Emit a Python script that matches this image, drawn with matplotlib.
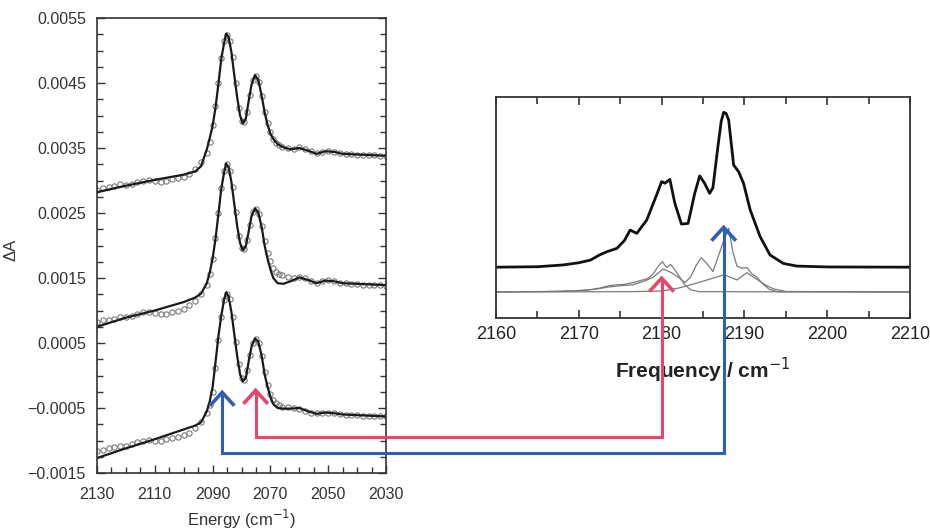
import numpy as np
import matplotlib
matplotlib.use('Agg')
import matplotlib.pyplot as plt
from matplotlib.lines import Line2D
from matplotlib.ticker import MultipleLocator

plt.rcParams['font.family'] = ['Liberation Sans', 'DejaVu Sans']

# ---- left panel: measured spectra (circles) and fits (lines) ----
e_fit = [2130, 2120, 2110, 2100, 2096, 2094, 2092, 2091, 2090, 2089, 2088, 2087, 2086,
         2085.3, 2084.5, 2083.5, 2082.5, 2081.5, 2080.5, 2079.6, 2078.5, 2077.5, 2076.5,
         2075.3, 2074.2, 2073, 2072, 2071, 2070, 2069, 2067.5, 2065.5, 2063, 2060, 2057,
         2054, 2051, 2048, 2045, 2040, 2035, 2030]
fit_top = [0.00282, 0.00292, 0.00301, 0.00309, 0.00314, 0.00322, 0.00348, 0.00365, 0.00384,
           0.00412, 0.00448, 0.00487, 0.00512, 0.00526, 0.00521, 0.00498, 0.00462, 0.00428,
           0.00400, 0.00388, 0.00395, 0.00423, 0.00448, 0.00462, 0.00455, 0.00430, 0.00405,
           0.00386, 0.00372, 0.00364, 0.00356, 0.00351, 0.00348, 0.00350, 0.00346, 0.00341,
           0.00345, 0.00344, 0.00341, 0.00340, 0.00339, 0.00338]
fit_mid = [0.00075, 0.00089, 0.00100, 0.00113, 0.00120, 0.00126, 0.00142, 0.00158, 0.00180,
           0.00210, 0.00248, 0.00287, 0.00313, 0.00326, 0.00321, 0.00298, 0.00264, 0.00230,
           0.00204, 0.00193, 0.00199, 0.00222, 0.00246, 0.00257, 0.00251, 0.00228, 0.00200,
           0.00180, 0.00163, 0.00150, 0.00142, 0.00141, 0.00145, 0.00151, 0.00147, 0.00142,
           0.00146, 0.00145, 0.00142, 0.00141, 0.00140, 0.00139]
fit_bot = [-0.00127, -0.00112, -0.00098, -0.00083, -0.00077, -0.00072, -0.00055, -0.00040,
           -0.00018, 0.00020, 0.00060, 0.00092, 0.00117, 0.00128, 0.00122, 0.00098, 0.00064,
           0.00030, 0.00002, -0.00009, -0.00004, 0.00022, 0.00045, 0.00057, 0.00052, 0.00030,
           0.00002, -0.00017, -0.00033, -0.00044, -0.00050, -0.00051, -0.00051, -0.00050,
           -0.00055, -0.00059, -0.00057, -0.00058, -0.00060, -0.00061, -0.00062, -0.00063]

e_pts = np.concatenate([np.arange(2130, 2092, -2), np.arange(2092, 2066, -1),
                        np.arange(2066, 2029, -2)])
pts_top = [0.00286, 0.00288, 0.00290, 0.00292, 0.00294, 0.00293, 0.00295, 0.00297, 0.00300,
           0.00301, 0.00300, 0.00298, 0.00300, 0.00302, 0.00304, 0.00306, 0.00310, 0.00318,
           0.00328,
           0.00342, 0.00360, 0.00385, 0.00414, 0.00450, 0.00488, 0.00514, 0.00524, 0.00514,
           0.00490, 0.00450, 0.00412, 0.00391, 0.00390, 0.00405, 0.00432, 0.00455, 0.00461,
           0.00451, 0.00430, 0.00406, 0.00388, 0.00374, 0.00364, 0.00358, 0.00354,
           0.00352, 0.00350, 0.00349, 0.00351, 0.00349, 0.00345, 0.00342, 0.00344, 0.00346,
           0.00344, 0.00342, 0.00341, 0.00341, 0.00340, 0.00340, 0.00339, 0.00339, 0.00338,
           0.00338]
pts_mid = [0.00082, 0.00085, 0.00086, 0.00087, 0.00090, 0.00090, 0.00092, 0.00095, 0.00097,
           0.00098, 0.00096, 0.00094, 0.00095, 0.00097, 0.00099, 0.00102, 0.00108, 0.00115,
           0.00126,
           0.00140, 0.00156, 0.00180, 0.00212, 0.00250, 0.00288, 0.00314, 0.00325, 0.00314,
           0.00290, 0.00251, 0.00214, 0.00196, 0.00195, 0.00208, 0.00232, 0.00252, 0.00256,
           0.00248, 0.00230, 0.00207, 0.00189, 0.00176, 0.00166, 0.00160, 0.00156,
           0.00154, 0.00151, 0.00150, 0.00151, 0.00150, 0.00146, 0.00143, 0.00145, 0.00147,
           0.00145, 0.00143, 0.00142, 0.00141, 0.00141, 0.00140, 0.00140, 0.00139, 0.00139,
           0.00138]
pts_bot = [-0.00116, -0.00114, -0.00112, -0.00110, -0.00109, -0.00108, -0.00106, -0.00103,
           -0.00100, -0.00099, -0.00100, -0.00100, -0.00098, -0.00096, -0.00094, -0.00092,
           -0.00088, -0.00080, -0.00072,
           -0.00058, -0.00046, -0.00025, 0.00012, 0.00054, 0.00090, 0.00116, 0.00126, 0.00118,
           0.00090, 0.00052, 0.00018, -0.00004, -0.00007, 0.00008, 0.00032, 0.00050, 0.00056,
           0.00050, 0.00030, 0.00005, -0.00014, -0.00028, -0.00038, -0.00043, -0.00046,
           -0.00048, -0.00049, -0.00050, -0.00051, -0.00054, -0.00057, -0.00058, -0.00057,
           -0.00057, -0.00058, -0.00059, -0.00060, -0.00061, -0.00061, -0.00062, -0.00062,
           -0.00063, -0.00063, -0.00063]

energy_ticks = [2130, 2110, 2090, 2070, 2050, 2030]
da_ticks = [-0.0015, -0.0005, 0.0005, 0.0015, 0.0025, 0.0035, 0.0045, 0.0055]
da_labels = ['\u22120.0015', '\u22120.0005', '0.0005', '0.0015', '0.0025',
             '0.0035', '0.0045', '0.0055']

# ---- right panel: simulated spectrum and components ----
f_sum = [2160, 2165, 2168.1, 2170, 2171.4, 2172.5, 2173.4, 2174.6, 2175.5, 2176.2, 2177.0,
         2178.2, 2179.4, 2180.0, 2180.4, 2181.0, 2181.6, 2182.4, 2183.2, 2184.0, 2184.6,
         2185.2, 2185.8, 2186.2, 2186.8, 2187.2, 2187.5, 2187.8, 2188.1, 2188.7, 2189.3,
         2189.9, 2190.7, 2191.9, 2193.1, 2194.7, 2196.3, 2200, 2210]
v_sum = [0.23, 0.232, 0.24, 0.25, 0.262, 0.285, 0.30, 0.315, 0.35, 0.398, 0.383, 0.443,
         0.557, 0.617, 0.61, 0.627, 0.519, 0.425, 0.428, 0.564, 0.643, 0.609, 0.564, 0.59,
         0.775, 0.89, 0.931, 0.925, 0.896, 0.692, 0.662, 0.609, 0.489, 0.368, 0.285, 0.247,
         0.235, 0.231, 0.23]

f_c1 = [2160, 2168, 2171, 2172.5, 2173.5, 2174.5, 2175.5, 2176.5, 2177.5, 2178.3, 2179.0,
        2179.6, 2180.1, 2180.6, 2181.1, 2181.6, 2182.2, 2182.8, 2183.5, 2184.5, 2210]
v_c1 = [0.118, 0.120, 0.126, 0.135, 0.145, 0.150, 0.152, 0.160, 0.170, 0.178, 0.200, 0.235,
        0.255, 0.228, 0.242, 0.218, 0.185, 0.150, 0.128, 0.119, 0.118]
f_c2 = [2160, 2166, 2170, 2172, 2173.5, 2175, 2176.5, 2178, 2179, 2180.2, 2181.2, 2182.0,
        2182.8, 2183.5, 2184.2, 2184.8, 2185.5, 2186.2, 2186.9, 2187.5, 2188.1, 2188.6,
        2189.1, 2189.7, 2190.3, 2190.9, 2191.5, 2192.2, 2193.0, 2194, 2210]
v_c2 = [0.118, 0.120, 0.124, 0.130, 0.140, 0.146, 0.150, 0.168, 0.185, 0.222, 0.205, 0.185,
        0.160, 0.185, 0.240, 0.273, 0.245, 0.210, 0.285, 0.350, 0.406, 0.300, 0.235, 0.225,
        0.228, 0.200, 0.185, 0.155, 0.130, 0.119, 0.118]
f_c3 = [2160, 2176, 2180, 2182, 2184, 2186, 2187.5, 2188.3, 2189.1, 2190.3, 2191.5, 2192.5,
        2193.5, 2195, 2210]
v_c3 = [0.118, 0.119, 0.122, 0.135, 0.155, 0.178, 0.195, 0.185, 0.172, 0.205, 0.175, 0.150,
        0.132, 0.120, 0.118]

fig = plt.figure(figsize=(9.3, 5.32), dpi=100)

ax1 = fig.add_axes([97 / 930, 1 - 473 / 532, 289 / 930, 455 / 532])
for fit, pts in [(fit_top, pts_top), (fit_mid, pts_mid), (fit_bot, pts_bot)]:
    ax1.plot(e_pts, pts, 'o', mfc='none', mec='#7a7a7a', ms=3.8, mew=0.8)
    ax1.plot(e_fit, fit, color='#1a1a1a', lw=1.6, solid_joinstyle='round')
ax1.set_xlim(2130, 2030)
ax1.set_ylim(-0.0015, 0.0055)
ax1.set_xticks(energy_ticks)
ax1.xaxis.set_minor_locator(MultipleLocator(5))
ax1.set_yticks(da_ticks)
ax1.set_yticklabels(da_labels)
ax1.yaxis.set_minor_locator(MultipleLocator(0.00025))
ax1.tick_params(which='both', direction='in', left=True, right=True, top=False,
                bottom=True, labelsize=11.5, colors='#333333')
ax1.tick_params(which='major', length=6, width=1)
ax1.tick_params(which='minor', length=4, width=1)
ax1.tick_params(axis='x', pad=10)
ax1.tick_params(axis='y', pad=8)
for s in ax1.spines.values():
    s.set_linewidth(1.2)
    s.set_color('#333333')
ax1.set_xlabel('Energy (cm$^{-1}$)', fontsize=12, color='#333333', labelpad=4)
fig.text(0.012, 0.53, '\u0394A', rotation=90, fontsize=12, color='#333333',
         ha='center', va='center')

ax2 = fig.add_axes([496 / 930, 1 - 318 / 532, 414 / 930, 221 / 532])
for f, v in [(f_c1, v_c1), (f_c2, v_c2), (f_c3, v_c3)]:
    ax2.plot(f, v, color='#7a7a7a', lw=0.9)
ax2.plot(f_sum, v_sum, color='#111111', lw=2.0, solid_joinstyle='round')
ax2.set_xlim(2160, 2210)
ax2.set_ylim(0, 1)
ax2.xaxis.set_major_locator(MultipleLocator(10))
ax2.xaxis.set_minor_locator(MultipleLocator(5))
ax2.set_yticks([])
ax2.tick_params(which='both', direction='in', top=True, bottom=True, labelsize=13,
                colors='#222222', pad=6)
ax2.tick_params(which='major', length=6, width=1.1)
ax2.tick_params(which='minor', length=5, width=1.1)
for s in ax2.spines.values():
    s.set_linewidth(1.3)
    s.set_color('#333333')
ax2.set_xlabel('Frequency / cm$^{-1}$', fontsize=15, fontweight='bold',
               color='#222222', labelpad=9)


# ---- connecting arrows, anchored on data positions ----
def disp(ax, x, y):
    return ax.transData.transform((x, y))


def draw_arrow(start, corner_y, end, color):
    # start: tip in right panel, end: tip in left panel (display coords)
    xs = [start[0], start[0], end[0], end[0]]
    ys = [start[1], corner_y, corner_y, end[1]]
    inv = fig.transFigure.inverted()
    path = inv.transform(np.column_stack([xs, ys]))
    fig.add_artist(Line2D(path[:, 0], path[:, 1], color=color, lw=2.2,
                          solid_joinstyle='miter', solid_capstyle='butt', zorder=10))
    for tip in (start, end):
        head = inv.transform([[tip[0] - 11, tip[1] - 12], [tip[0], tip[1]],
                              [tip[0] + 11, tip[1] - 12]])
        fig.add_artist(Line2D(head[:, 0], head[:, 1], color=color, lw=2.6,
                              solid_joinstyle='miter', zorder=10))


blue = '#2f5fb5'
red = '#e6466c'
b_start = disp(ax2, 2187.5, 0.41)
b_end = disp(ax1, 2086.7, -0.00026)
b_corner = disp(ax1, 2086.7, -0.00119)[1]
draw_arrow(b_start, b_corner, b_end, blue)

r_start = disp(ax2, 2180.0, 0.18)
r_end = disp(ax1, 2075.1, -0.00023)
r_corner = disp(ax1, 2075.1, -0.00095)[1]
draw_arrow(r_start, r_corner, r_end, red)

fig.savefig('out.png', dpi=100)
